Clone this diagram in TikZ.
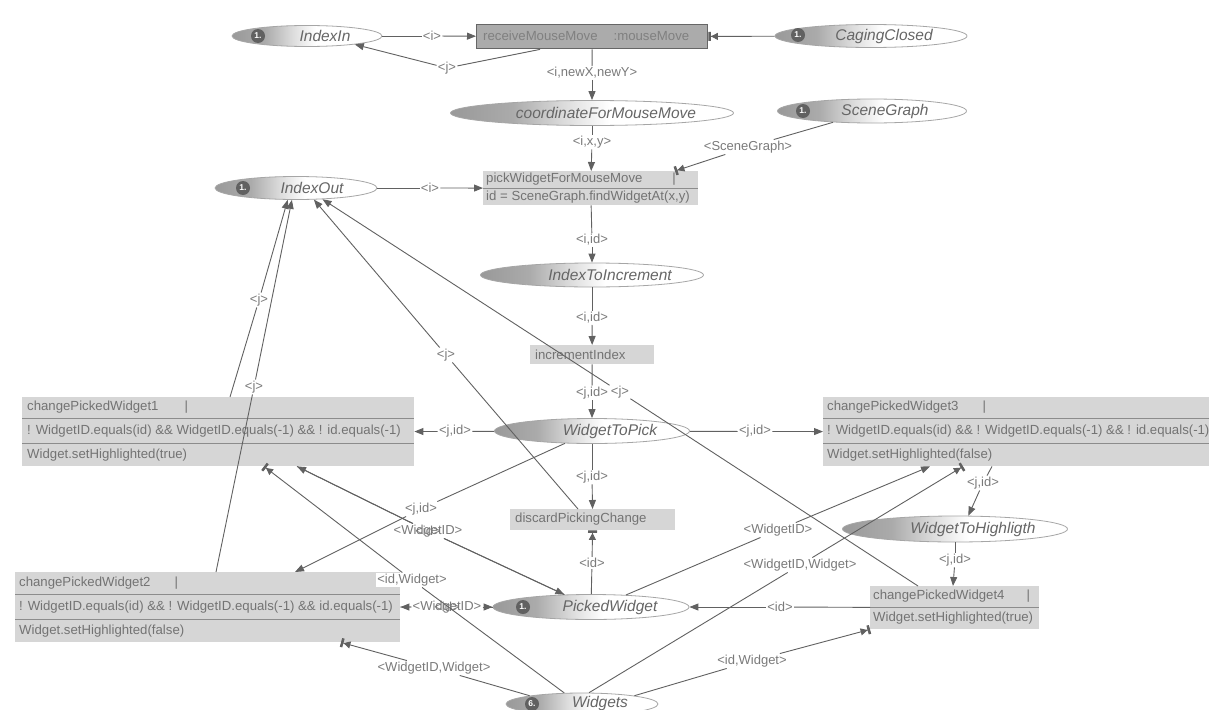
\documentclass[tikz,border=0pt]{standalone}
\usepackage{fontspec}
\setmainfont{Liberation Sans}
\usetikzlibrary{shapes.geometric,arrows.meta,calc}
\pgfdeclarehorizontalshading{placeshade}{100bp}{color(0bp)=(black!40); color(25bp)=(black!40); color(36bp)=(black!33); color(45bp)=(black!14); color(53bp)=(white); color(100bp)=(white)}
\tikzset{
  lbl/.style={font=\fontsize{13}{15}\selectfont, text=black!52, fill=white, inner sep=1.2pt},
  boxtxt/.style={font=\fontsize{13.2}{15}\selectfont, text=black!55, anchor=west, inner sep=0pt},
  place/.style={ellipse, draw=black!35, line width=0.8pt, shading=placeshade, inner sep=0pt},
  placetxt/.style={font=\fontsize{15.5}{18}\selectfont\itshape, text=black!60, inner sep=0pt},
  token/.style={circle, fill=black!62, text=white, font=\fontsize{8.5}{9}\selectfont\bfseries, inner sep=0pt, minimum size=14pt},
  trans/.style={rectangle, fill=black!16, draw=none, inner sep=0pt, anchor=north west},
  arc/.style={draw=black!62, line width=0.9pt},
  tip/.style={arc, -{Triangle[length=9pt,width=7pt]}},
  bartip/.style={arc, -{Triangle[length=7pt,width=7pt]Rectangle[length=2.5pt,width=9pt]}},
  div/.style={draw=black!45, line width=1pt}
}
\begin{document}
\begin{tikzpicture}[x=1pt,y=-1pt]
\clip (0,0) rectangle (1209,709);
\fill[white] (0,0) rectangle (1209,709);

% ---------- transitions ----------
\node[trans, minimum width=231pt, minimum height=24pt, fill=black!33, draw=black!60, line width=1.4pt] (receive) at (476,24) {};
\node[boxtxt, text=black!50] (receiveT) at (483,36) {receiveMouseMove\hspace{16pt}:mouseMove};

\node[trans, minimum width=215pt, minimum height=34pt] (pick) at (483,171) {};
\draw[div] ($(pick.north west)+(0,17)$) -- ($(pick.north east)+(0,17)$);
\node[boxtxt] (pickT1) at (486,179.5) {pickWidgetForMouseMove\hspace{30pt}|};
\node[boxtxt] (pickT2) at (486,197) {id = SceneGraph.findWidgetAt(x,y)};

\node[trans, minimum width=124pt, minimum height=19pt] (incr) at (530,345) {};
\node[boxtxt] (incrT) at (535,354.5) {incrementIndex};

\node[trans, minimum width=165pt, minimum height=21pt] (discard) at (510,509) {};
\node[boxtxt] (discardT) at (515,519.5) {discardPickingChange};

\node[trans, minimum width=392pt, minimum height=69pt] (cPW1) at (22,397) {};
\draw[div] ($(cPW1.north west)+(0,21)$) -- ($(cPW1.north east)+(0,21)$);
\draw[div] ($(cPW1.north west)+(0,46)$) -- ($(cPW1.north east)+(0,46)$);
\node[boxtxt] (cPW1T1) at (27,407.5) {changePickedWidget1\hspace{26pt}|};
\node[boxtxt] (cPW1T2) at (27,431) {! WidgetID.equals(id) \&\& WidgetID.equals(-1) \&\& ! id.equals(-1)};
\node[boxtxt] (cPW1T3) at (27,455) {Widget.setHighlighted(true)};

\node[trans, minimum width=392pt, minimum height=69pt] (cPW3) at (823,397) {};
\draw[div] ($(cPW3.north west)+(0,21)$) -- ($(cPW3.north east)+(0,21)$);
\draw[div] ($(cPW3.north west)+(0,46)$) -- ($(cPW3.north east)+(0,46)$);
\node[boxtxt] (cPW3T1) at (827,407.5) {changePickedWidget3\hspace{24pt}|};
\node[boxtxt] (cPW3T2) at (827,431) {! WidgetID.equals(id) \&\& ! WidgetID.equals(-1) \&\& ! id.equals(-1)};
\node[boxtxt] (cPW3T3) at (827,455) {Widget.setHighlighted(false)};

\node[trans, minimum width=385pt, minimum height=70pt] (cPW2) at (15,572) {};
\draw[div] ($(cPW2.north west)+(0,22)$) -- ($(cPW2.north east)+(0,22)$);
\draw[div] ($(cPW2.north west)+(0,47)$) -- ($(cPW2.north east)+(0,47)$);
\node[boxtxt] (cPW2T1) at (19,583) {changePickedWidget2\hspace{24pt}|};
\node[boxtxt] (cPW2T2) at (19,607) {! WidgetID.equals(id) \&\& ! WidgetID.equals(-1) \&\& id.equals(-1)};
\node[boxtxt] (cPW2T3) at (19,631) {Widget.setHighlighted(false)};

\node[trans, minimum width=169pt, minimum height=43pt] (cPW4) at (870,586) {};
\draw[div] ($(cPW4.north west)+(0,21)$) -- ($(cPW4.north east)+(0,21)$);
\node[boxtxt] (cPW4T1) at (873,596.5) {changePickedWidget4\hspace{22pt}|};
\node[boxtxt] (cPW4T2) at (873,618) {Widget.setHighlighted(true)};

% ---------- places ----------
\node[place, minimum width=150pt, minimum height=21pt] (IndexIn) at (307,36) {};
\node[token] (IndexInK) at (258,36) {1.};
\node[placetxt] (IndexInT) at (325,36) {IndexIn};

\node[place, minimum width=192pt, minimum height=23pt] (Caging) at (871,36) {};
\node[token] (CagingK) at (798,35) {1.};
\node[placetxt] (CagingT) at (884,36) {CagingClosed};

\node[place, minimum width=283pt, minimum height=25pt] (coord) at (592,113) {};
\node[placetxt] (coordT) at (606,113) {coordinateForMouseMove};

\node[place, minimum width=189pt, minimum height=24pt] (Scene) at (872,111) {};
\node[token] (SceneK) at (803,111) {1.};
\node[placetxt] (SceneT) at (885,111) {SceneGraph};

\node[place, minimum width=162pt, minimum height=23pt] (IndexOut) at (296,188) {};
\node[token] (IndexOutK) at (243,188) {1.};
\node[placetxt] (IndexOutT) at (312,188) {IndexOut};

\node[place, minimum width=223pt, minimum height=24pt] (IndexInc) at (592,275) {};
\node[placetxt] (IndexIncT) at (610,275) {IndexToIncrement};

\node[place, minimum width=195pt, minimum height=25pt] (W2Pick) at (592,431) {};
\node[placetxt] (W2PickT) at (610,431) {WidgetToPick};

\node[place, minimum width=225pt, minimum height=26pt] (W2High) at (955,529) {};
\node[placetxt] (W2HighT) at (973,529) {WidgetToHighligth};

\node[place, minimum width=196pt, minimum height=25pt] (Picked) at (591,607) {};
\node[token] (PickedK) at (523,607) {1.};
\node[placetxt] (PickedT) at (610,607) {PickedWidget};

\node[place, minimum width=152pt, minimum height=22pt] (Widgets) at (582,704) {};
\node[token] (WidgetsK) at (532,704) {6.};
\node[placetxt] (WidgetsT) at (600,703) {Widgets};

% ---------- arc labels ----------
\node[lbl] (l1) at (432,36) {<i>};
\node[lbl] (l2) at (447,68) {<j>};
\node[lbl] (l4) at (592,73) {<i,newX,newY>};
\node[lbl] (l5) at (592,142) {<i,x,y>};
\node[lbl] (l6) at (748,147) {<SceneGraph>};
\node[lbl] (l7) at (430,188) {<i>};
\node[lbl] (l8) at (592,240) {<i,id>};
\node[lbl] (l9) at (592,318) {<i,id>};
\node[lbl] (l10) at (592,393) {<j,id>};
\node[lbl] (l11) at (455,431.5) {<j,id>};
\node[lbl] (l12) at (755,431.5) {<j,id>};
\node[lbl] (l13) at (592,477) {<j,id>};
\node[lbl] (l14) at (421,509) {<j,id>};
\node[lbl] (l15) at (259,300) {<j>};
\node[lbl] (l16) at (254,387) {<j>};
\node[lbl] (l17) at (446,355) {<j>};
\node[lbl] (l18) at (620,392) {<j>};
\node[lbl] (l19) at (592,563) {<id>};
\node[lbl] (l20) at (447,607) {<WidgetID>};
\node[lbl, fill=none] (l21) at (447,607) {<id>};
\node[lbl] (l22) at (428,531) {<WidgetID>};
\node[lbl, fill=none] (l23) at (428,531) {<id>};
\node[lbl] (l24) at (412,580) {<id,Widget>};
\node[lbl] (l25) at (434,668) {<WidgetID,Widget>};
\node[lbl] (l26) at (752,661) {<id,Widget>};
\node[lbl] (l27) at (800,565) {<WidgetID,Widget>};
\node[lbl] (l28) at (778,530) {<WidgetID>};
\node[lbl] (l29) at (780,607) {<id>};
\node[lbl] (l30) at (983,483) {<j,id>};
\node[lbl] (l31) at (955,560) {<j,id>};

% ---------- arcs ----------
\draw[arc] (IndexIn) -- (l1); \draw[tip] (l1) -- (receive);
\draw[arc] ($(receive.south west)+(64,0)$) -- (l2); \draw[tip] (l2) -- (IndexIn.-10);
\draw[bartip] (Caging) -- (receive);
\draw[arc] (receive) -- (l4); \draw[tip] (l4) -- (coord);
\draw[arc] (coord) -- (l5); \draw[tip] (l5) -- (pick);
\draw[arc] (Scene) -- (l6); \draw[bartip] (l6) -- ($(pick.north west)+(192,0)$);
\draw[arc] (IndexOut) -- (l7); \draw[tip] (l7) -- (pick);
\draw[arc] (pick) -- (l8); \draw[tip] (l8) -- (IndexInc);
\draw[arc] (IndexInc) -- (l9); \draw[tip] (l9) -- (incr);
\draw[arc] (incr) -- (l10); \draw[tip] (l10) -- (W2Pick);
\draw[arc] (W2Pick) -- (l11); \draw[tip] (l11) -- (cPW1);
\draw[arc] (W2Pick) -- (l12); \draw[tip] (l12) -- (cPW3);
\draw[arc] (W2Pick) -- (l13); \draw[tip] (l13) -- (discard);
\draw[arc] (W2Pick) -- (l14); \draw[tip] (l14) -- ($(cPW2.north west)+(280,0)$);
\draw[arc] ($(cPW1.north west)+(208,0)$) -- (l15); \draw[tip] (l15) -- (IndexOut.-125);
\draw[arc] ($(cPW2.north west)+(201,0)$) -- (l16); \draw[tip] (l16) -- (IndexOut.-109);
\draw[arc] ($(discard.north west)+(68,0)$) -- (l17); \draw[tip] (l17) -- (IndexOut.-33);
\draw[arc] ($(cPW4.north west)+(48,0)$) -- (l18); \draw[tip] (l18) -- (IndexOut.-23);
\draw[arc] (Picked) -- (l19); \draw[bartip] (l19) -- (discard);
\draw[arc] (cPW2) -- (l20); \draw[tip] (l20) -- (Picked);
\draw[arc] (Picked) -- (l20); \draw[tip] (l20) -- (cPW2);
\draw[arc] ($(cPW1.south west)+(275,0)$) -- (l22); \draw[tip] (l22) -- (Picked.155);
\draw[arc] (Picked.155) -- (l22); \draw[tip] (l22) -- ($(cPW1.south west)+(275,0)$);
\draw[arc] (Widgets.148) -- (l24); \draw[bartip] (l24) -- ($(cPW1.south west)+(242,0)$);
\draw[arc] (Widgets.171) -- (l25); \draw[bartip] (l25) -- ($(cPW2.south west)+(326,0)$);
\draw[arc] (Widgets.9) -- (l26); \draw[bartip] (l26) -- (cPW4.south west);
\draw[arc] (Widgets.58) -- (l27); \draw[bartip] (l27) -- ($(cPW3.south west)+(140,0)$);
\draw[arc] (Picked.19) -- (l28); \draw[tip] (l28) -- ($(cPW3.south west)+(107,0)$);
\draw[arc] (cPW4) -- (l29); \draw[tip] (l29) -- (Picked);
\draw[arc] ($(cPW3.south west)+(169,0)$) -- (l30); \draw[tip] (l30) -- (W2High.45);
\draw[arc] (W2High) -- (l31); \draw[tip] (l31) -- ($(cPW4.north west)+(83,0)$);
\end{tikzpicture}
\end{document}
